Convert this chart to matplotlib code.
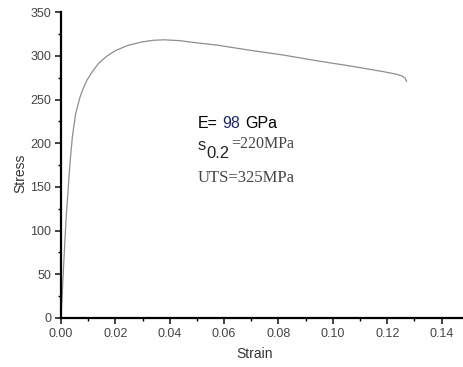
import matplotlib
matplotlib.use("Agg")
import matplotlib.pyplot as plt
from matplotlib.ticker import MultipleLocator

plt.rcParams['font.family'] = ['Liberation Sans', 'DejaVu Sans']

# stress-strain curve
strain = [0.0, 0.0005, 0.0010, 0.0015, 0.0020, 0.0027, 0.0033, 0.0042, 0.0054,
          0.0070, 0.0082, 0.0095, 0.0115, 0.0137, 0.0165, 0.0199, 0.0245, 0.0297,
          0.0340, 0.0380, 0.0438, 0.0500, 0.0573, 0.0696, 0.0819, 0.0942, 0.1064,
          0.1187, 0.1236, 0.1255, 0.1265, 0.1271]
stress = [0, 30, 62, 92, 120, 150, 177, 208, 234,
          253, 263, 272, 282, 291, 299, 306, 312, 316,
          318, 318.5, 317.5, 315, 312.5, 306.5, 301, 294.5, 288.5,
          282, 279, 277, 275, 271]

xticks = [0.00, 0.02, 0.04, 0.06, 0.08, 0.10, 0.12, 0.14]
yticks = [0, 50, 100, 150, 200, 250, 300, 350]

W, H = 463, 367
fig = plt.figure(figsize=(W / 100, H / 100), dpi=100)
ax = fig.add_axes([61 / W, 1 - 318 / H, (462 - 61) / W, (318 - 12.3) / H])

ax.plot(strain, stress, color='#8e8e8e', lw=0.9)

ax.set_xlim(0, 0.1475)
ax.set_ylim(0, 350)
ax.set_xticks(xticks)
ax.set_xticklabels(['%.2f' % v for v in xticks])
ax.set_yticks(yticks)
ax.xaxis.set_minor_locator(MultipleLocator(0.01))
ax.yaxis.set_minor_locator(MultipleLocator(25))

for s in ['top', 'right']:
    ax.spines[s].set_visible(False)
for s in ['left', 'bottom']:
    ax.spines[s].set_linewidth(1.6)
ax.tick_params(which='major', direction='out', length=4, width=1.2,
               labelsize=9, colors='#222222', pad=3)
ax.tick_params(which='minor', direction='out', length=2.5, width=1.0)
for lab in ax.get_xticklabels() + ax.get_yticklabels():
    lab.set_color('#444444')

fig.text(255 / W, 1 - 358 / H, 'Strain', ha='center', va='baseline',
         fontsize=10, color='#333333')
fig.text(20 / W, 1 - 173 / H, 'Stress', ha='center', va='center',
         rotation=90, fontsize=10, color='#333333')

# annotations, placed in pixels from the top-left corner
def px(x, y):
    return x / W, 1 - y / H

fig.text(*px(198, 128), 'E=', fontsize=11.5, color='black', va='baseline')
fig.text(*px(222, 128), '98', fontsize=11.5, color='#1b2a6b', va='baseline')
fig.text(*px(245, 128), 'GPa', fontsize=11.5, color='black', va='baseline')

fig.text(*px(198, 150), 's', fontsize=12, color='#222222', va='baseline')
fig.text(*px(206, 158), '0.2', fontsize=12, color='#222222', va='baseline')
fig.text(*px(231, 148), '=220MPa', fontsize=11.5, color='#444444',
         va='baseline', family='Liberation Serif')

fig.text(*px(198, 182), 'UTS=325MPa', fontsize=12, color='#444444',
         va='baseline', family='Liberation Serif')

fig.savefig('out.png', dpi=100)
